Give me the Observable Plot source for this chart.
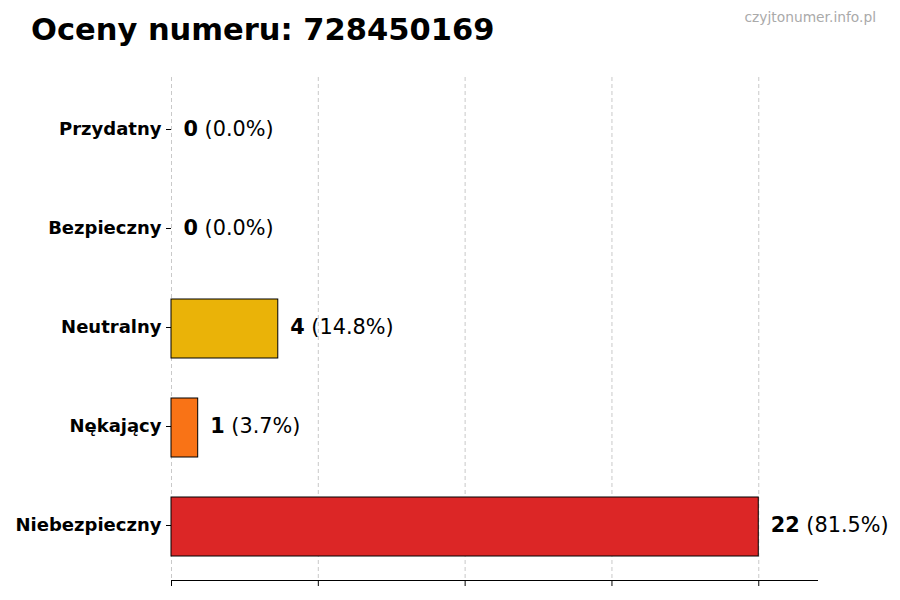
<!DOCTYPE html>
<html>
<head>
<meta charset="utf-8">
<script src="https://cdn.jsdelivr.net/npm/d3@7"></script>
<script src="https://cdn.jsdelivr.net/npm/@observablehq/plot@0.6"></script>
<style>
  body { margin: 0; background: #fff; font-family: "DejaVu Sans", sans-serif; }
  #wrap { position: relative; width: 900px; height: 600px; }
  #title { position: absolute; left: 31px; top: 12px; font-size: 30.5px; font-weight: bold; color: #000; }
  #wm { position: absolute; right: 24px; top: 9px; font-size: 13.8px; color: #aaa; }
  #chart { position: absolute; left: 0; top: 0; }
</style>
</head>
<body>
<div id="wrap">
  <div id="chart"></div>
  <div id="title">Oceny numeru: 728450169</div>
  <div id="wm">czyjtonumer.info.pl</div>
</div>
<script>
const categories = ["Przydatny", "Bezpieczny", "Neutralny", "Nękający", "Niebezpieczny"];
const counts = [0, 0, 4, 1, 22];
const percents = ["0.0%", "0.0%", "14.8%", "3.7%", "81.5%"];
const colors = ["#22c55e", "#3b82f6", "#eab308", "#f97316", "#dc2626"];
const xTicks = [0, 5.5, 11, 16.5, 22];

const data = categories.map((c, i) => ({cat: c, n: counts[i], pct: percents[i], color: colors[i]}));
const xMax = d3.max(counts) * 1.1;

const plot = Plot.plot({
  width: 900,
  height: 600,
  marginLeft: 171,
  marginRight: 83,
  marginTop: 77,
  marginBottom: 20,
  style: {fontFamily: "DejaVu Sans, sans-serif", background: "#fff"},
  x: {domain: [0, xMax], ticks: xTicks},
  y: {domain: categories, padding: 0.4, paddingOuter: 0.23, align: 0.5},
  marks: [
    Plot.gridX(xTicks, {stroke: "#bbb", strokeOpacity: 1, strokeDasharray: "4,3", strokeWidth: 0.8}),
    Plot.barX(data, {x: "n", y: "cat", fill: d => d.color, stroke: "#000", strokeWidth: 1}),
    Plot.frame({anchor: "bottom", stroke: "#000", strokeWidth: 1}),
    Plot.axisX(xTicks, {tickSize: 6, tickFormat: () => "", label: null, stroke: "#000"}),
    Plot.axisY({tickSize: 5, tickPadding: 5, label: null, fill: "#000", fontSize: 18, fontWeight: "bold", dy: -1.5}),
    Plot.text(data, {x: "n", y: "cat", text: d => d.n + "|(" + d.pct + ")", textAnchor: "start", dx: 12, dy: -1.5, fontSize: 20.8, fill: "#000", className: "vlab"})
  ]
});

document.getElementById("chart").appendChild(plot);

// split value labels into bold count + regular percentage
d3.select(plot).selectAll(".vlab text").each(function() {
  const t = this.textContent.split("|");
  const sel = d3.select(this);
  sel.text(null);
  sel.append("tspan").attr("font-weight", "bold").text(t[0]);
  sel.append("tspan").attr("font-weight", "normal").text(" " + t[1]);
});
</script>
</body>
</html>
